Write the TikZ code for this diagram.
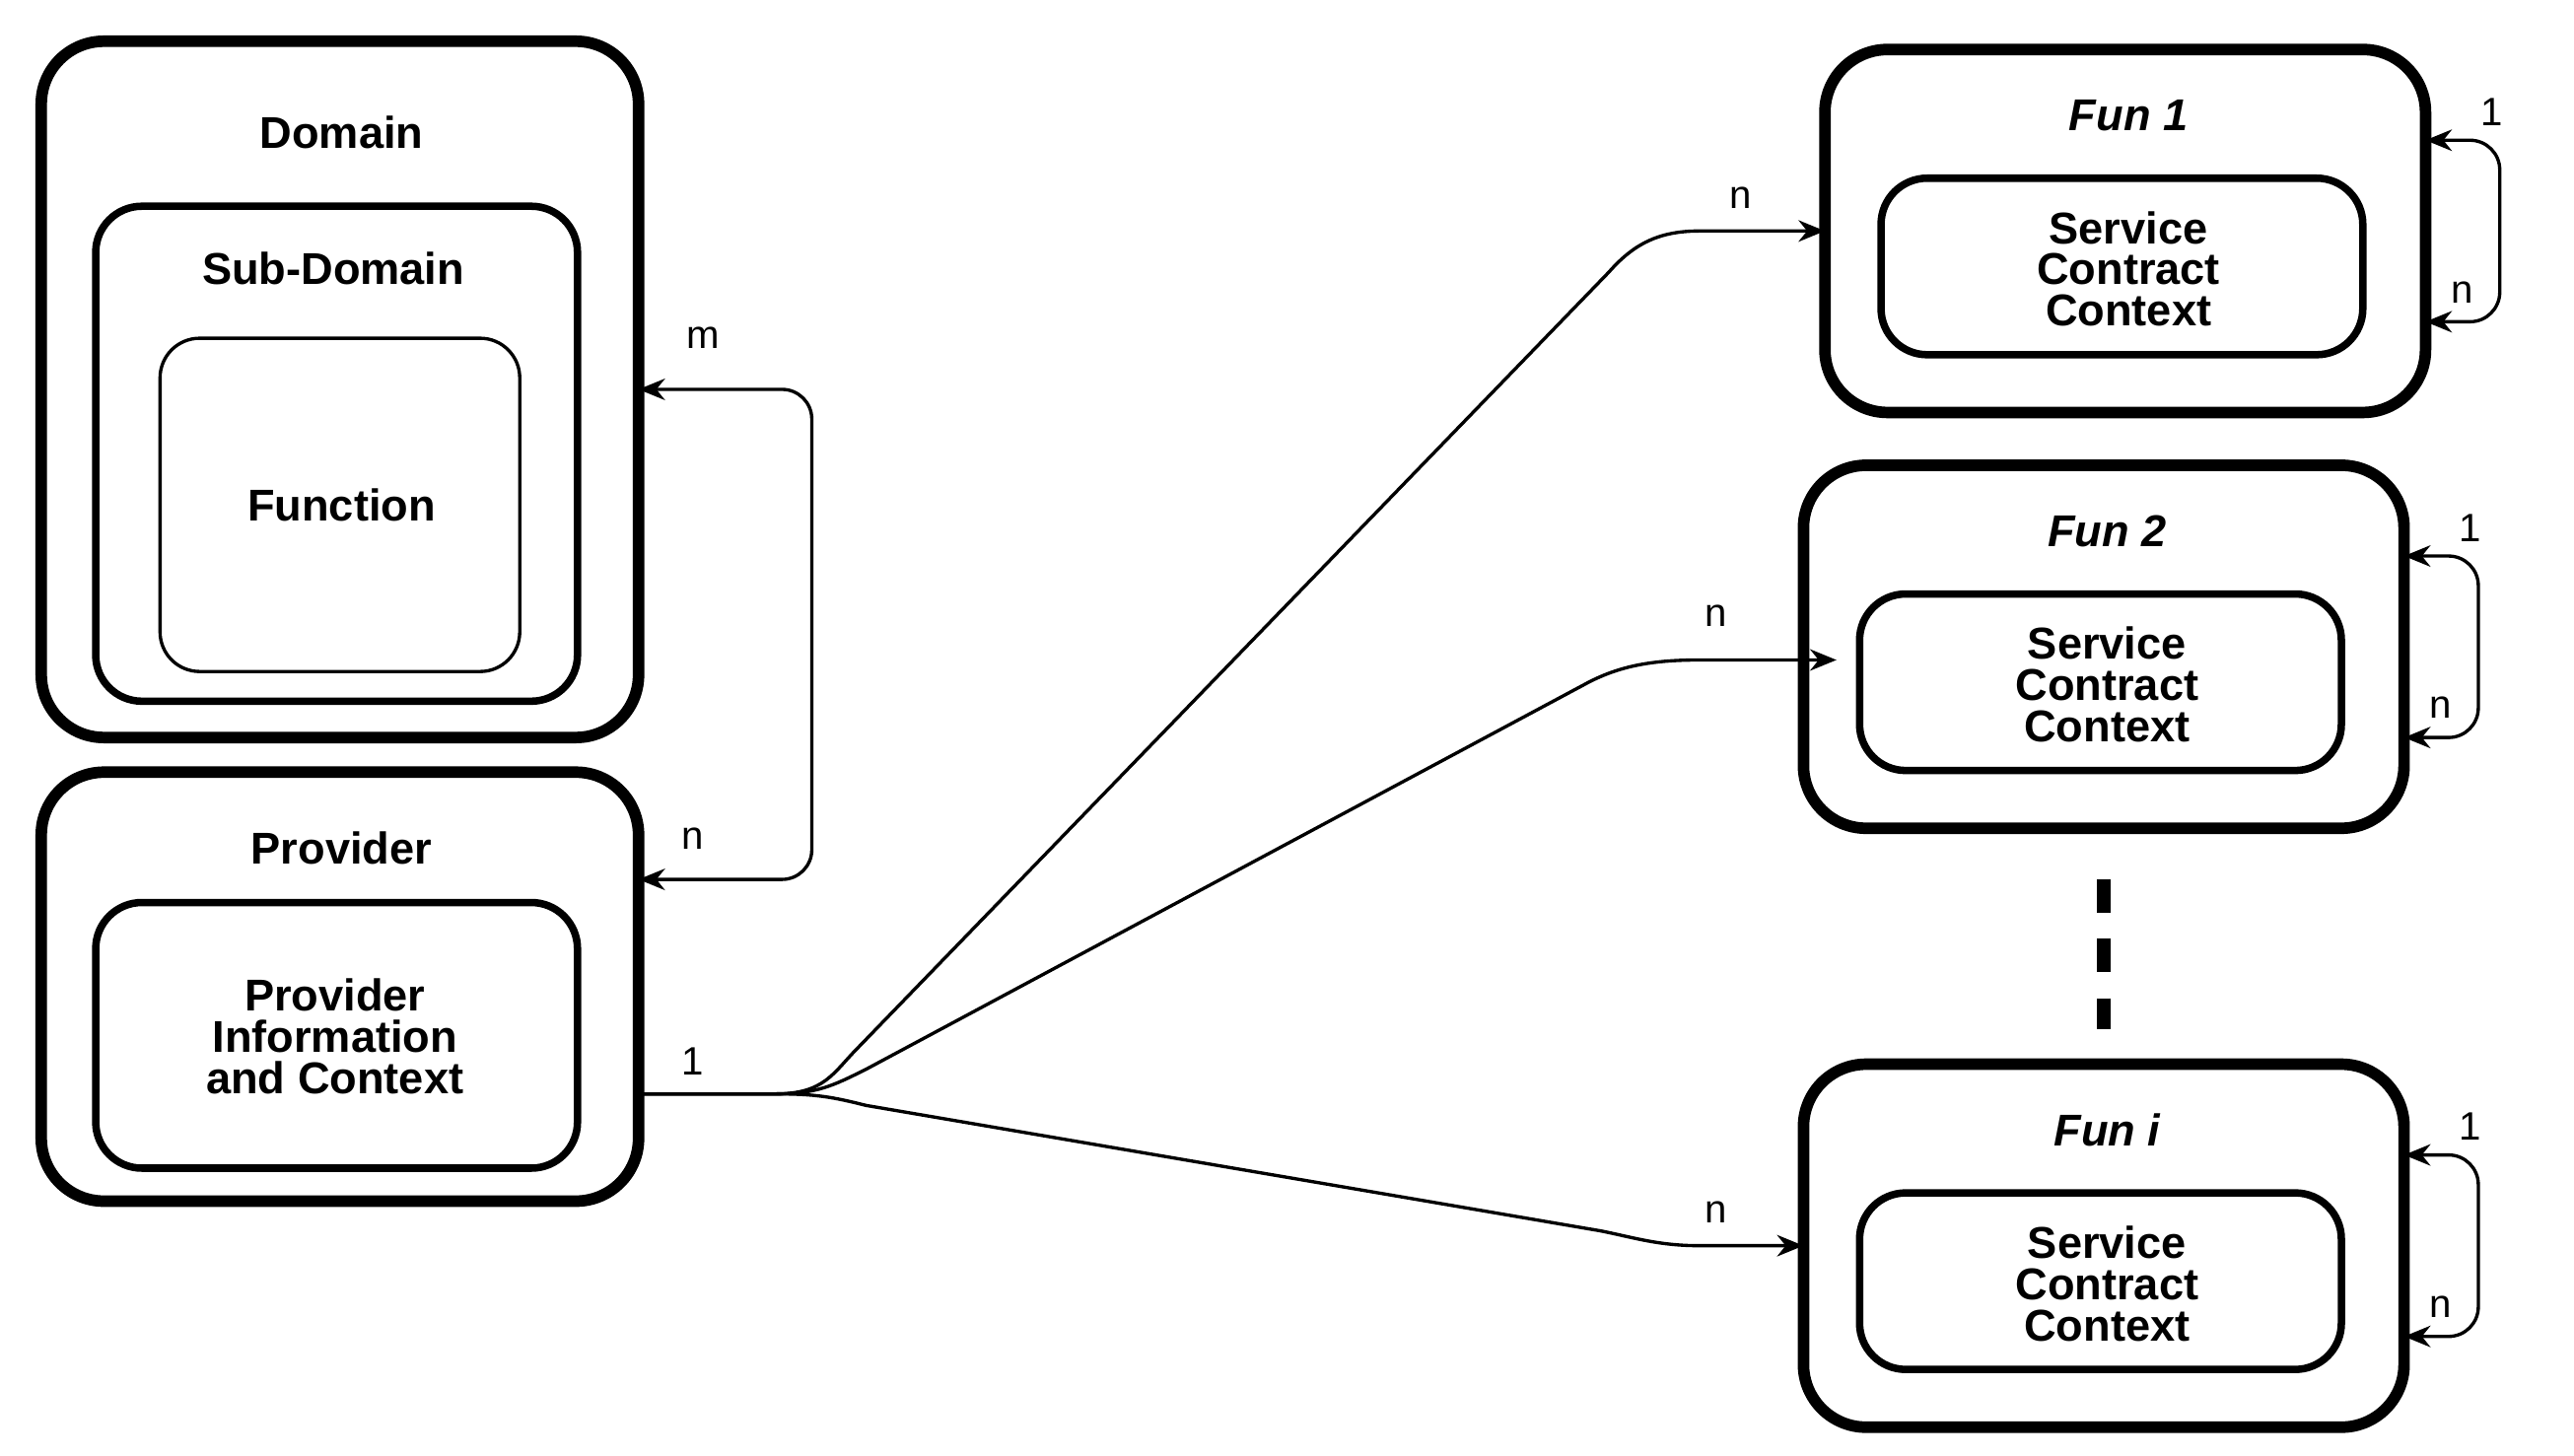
\documentclass[tikz,border=0pt]{standalone}
\usepackage{fontspec}
\setmainfont{Liberation Sans}
\usetikzlibrary{arrows.meta}
\begin{document}
\begin{tikzpicture}[x=1pt,y=-1pt,
  outer/.style={draw,line width=7pt,rounded corners=38pt},
  mid/.style={draw,line width=4.5pt,rounded corners=28pt},
  inn/.style={draw,line width=2pt,rounded corners=24pt},
  lbl/.style={font=\fontsize{27}{28}\selectfont\bfseries,align=center,inner sep=0},
  ilbl/.style={font=\fontsize{27}{28}\selectfont\bfseries\itshape,inner sep=0},
  sm/.style={font=\fontsize{24}{24}\selectfont,inner sep=0},
  con/.style={line width=2pt,-{Stealth[length=16pt,width=13pt]}},
  bcon/.style={line width=2pt,{Stealth[length=16pt,width=13pt]}-{Stealth[length=16pt,width=13pt]},rounded corners=18pt}]
\useasboundingbox (0,0) rectangle (1560,882);
\fill[white] (0,0) rectangle (1560,882);
% Domain
\draw[outer] (25,25) rectangle (387,447);
\draw[mid] (58,125) rectangle (350,425);
\draw[inn] (97,205) rectangle (315,407);
\node[lbl] (dom) at (207,80) {Domain};
\node[lbl] (sub) at (202,163) {Sub-Domain};
\node[lbl] (fun) at (207,306) {Function};
% Provider
\draw[outer] (25,468) rectangle (387,728);
\draw[mid] (58,547) rectangle (350,708);
\node[lbl] (prov) at (207,514) {Provider};
\node[lbl] (pic) at (203,628) {Provider\\[-3pt]Information\\[-3pt]and Context};
% Funs
\foreach \n/\x/\y/\t in {f1/1106/30/Fun 1,f2/1093/282/Fun 2,fi/1093/645/Fun i}{
  \draw[outer] (\x,\y) rectangle ++(364,220);
  \draw[mid] ({\x+34},{\y+78}) rectangle ++(292,107);
  \node[ilbl] (\n t) at ({\x+184},{\y+40}) {\t};
  \node[lbl] (\n s) at ({\x+184},{\y+133}) {Service\\[-3pt]Contract\\[-3pt]Context};
  \coordinate (\n a) at ({\x+364},{\y+55});
  \coordinate (\n b) at ({\x+364},{\y+165});
  \draw[bcon] (\n a) -- ({\x+409},{\y+55}) -- ({\x+409},{\y+165}) -- (\n b);
  \node[sm] at ({\x+404},{\y+38}) {1};
  \node[sm] at ({\x+386},{\y+147}) {n};
}
% dots
\draw[line width=8pt,dash pattern=on 20pt off 16pt] (1275,533) -- (1275,624);
% Domain-Provider
\coordinate (dm) at (387,236);
\coordinate (pn) at (387,533);
\draw[bcon] (dm) -- (492,236) -- (492,533) -- (pn);
\node[sm] at (426,205) {m};
\node[sm] at (420,508) {n};
% provider to funs
\coordinate (p1) at (387,663);
\coordinate (e1) at (1106,140);
\coordinate (e2) at (1113,400);
\coordinate (e3) at (1093,755);
\draw[con] (p1) -- (470,663) .. controls (500,663) and (505,650) .. (520,635) -- (975,165) .. controls (990,148) and (1005,140) .. (1030,140) -- (e1);
\draw[con] (p1) -- (470,663) .. controls (495,663) and (505,658) .. (525,648) -- (960,415) .. controls (980,404) and (1000,400) .. (1030,400) -- (e2);
\draw[con] (p1) -- (470,663) .. controls (495,663) and (505,665) .. (525,670) -- (970,746) .. controls (990,750) and (1005,755) .. (1030,755) -- (e3);
\node[sm] at (420,643) {1};
\node[sm] at (1055,120) {n};
\node[sm] at (1040,373) {n};
\node[sm] at (1040,735) {n};
\end{tikzpicture}
\end{document}
